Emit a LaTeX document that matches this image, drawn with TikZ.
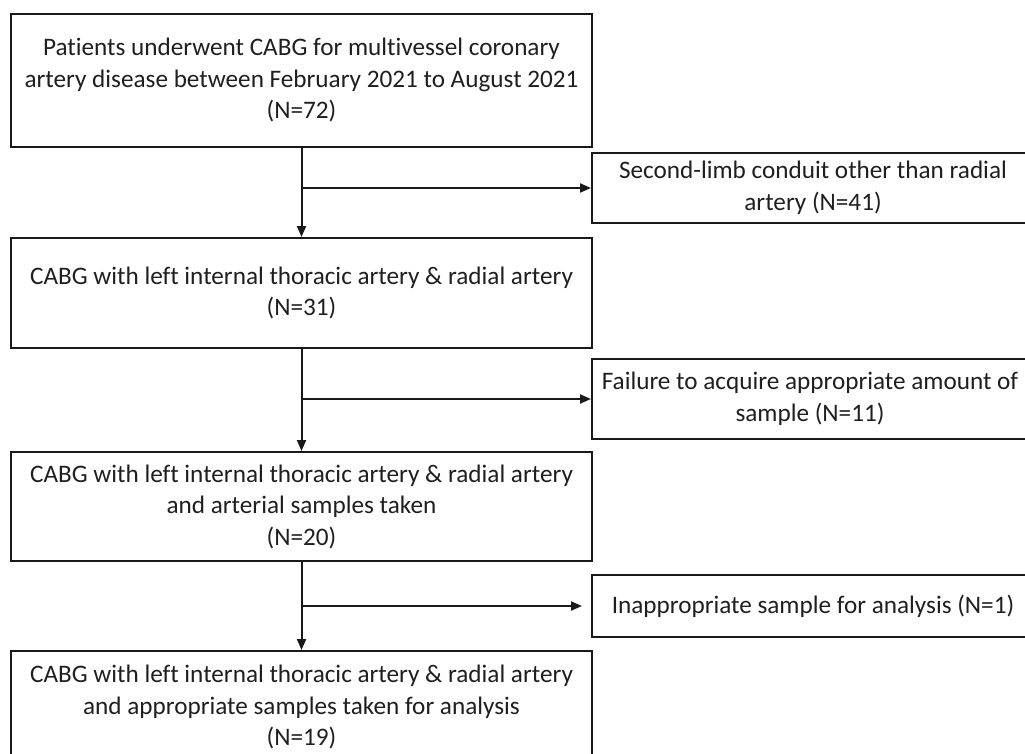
\documentclass[tikz,border=0pt]{standalone}
\usepackage{fontspec}
\setmainfont{Carlito}[RawFeature={-liga}]
\usetikzlibrary{arrows.meta}
\tikzset{
  box/.style={draw=black!90, line width=2pt, rectangle, inner sep=0pt, align=center,
    font=\fontsize{25.2}{31.5}\selectfont, text=black!88},
  conn/.style={draw=black!90, line width=2pt, -{Triangle[length=11pt,width=9pt]}}
}
\begin{document}
\begin{tikzpicture}[x=1pt,y=1pt]
\useasboundingbox (0,0) rectangle (1025,-754);
\clip (0,0) rectangle (1025,-754);
\node[box, minimum width=581pt, minimum height=133pt] (b1) at (301.5,-80.5)
  {Patients underwent CABG for multivessel coronary\\artery disease between February 2021 to August 2021\\(N=72)};
\node[box, minimum width=442pt, minimum height=70pt] (b2) at (813,-188)
  {Second-limb conduit other than radial\\artery (N=41)};
\node[box, minimum width=581pt, minimum height=110pt] (b3) at (301.5,-293)
  {CABG with left internal thoracic artery \& radial artery\\(N=31)};
\node[box, minimum width=436pt, minimum height=80pt] (b4) at (810,-399)
  {Failure to acquire appropriate amount of\\sample (N=11)};
\node[box, minimum width=581pt, minimum height=109pt] (b5) at (301.5,-506.5)
  {CABG with left internal thoracic artery \& radial artery\\and arterial samples taken\\(N=20)};
\node[box, minimum width=442pt, minimum height=62pt] (b6) at (813,-606)
  {Inappropriate sample for analysis (N=1)};
\node[box, minimum width=581pt, minimum height=112pt] (b7) at (301.5,-707)
  {CABG with left internal thoracic artery \& radial artery\\and appropriate samples taken for analysis\\(N=19)};
\coordinate (j1) at (301.5,-188);
\coordinate (j2) at (301.5,-399);
\coordinate (j3) at (301.5,-606);
\draw[conn] (b1.south) -- (b3.north);
\draw[conn] (j1) -- (b2.west);
\draw[conn] (b3.south) -- (b5.north);
\draw[conn] (j2) -- (b4.west);
\draw[conn] (b5.south) -- (b7.north);
\draw[conn] (j3) -- ([xshift=-9pt]b6.west);
\end{tikzpicture}
\end{document}
